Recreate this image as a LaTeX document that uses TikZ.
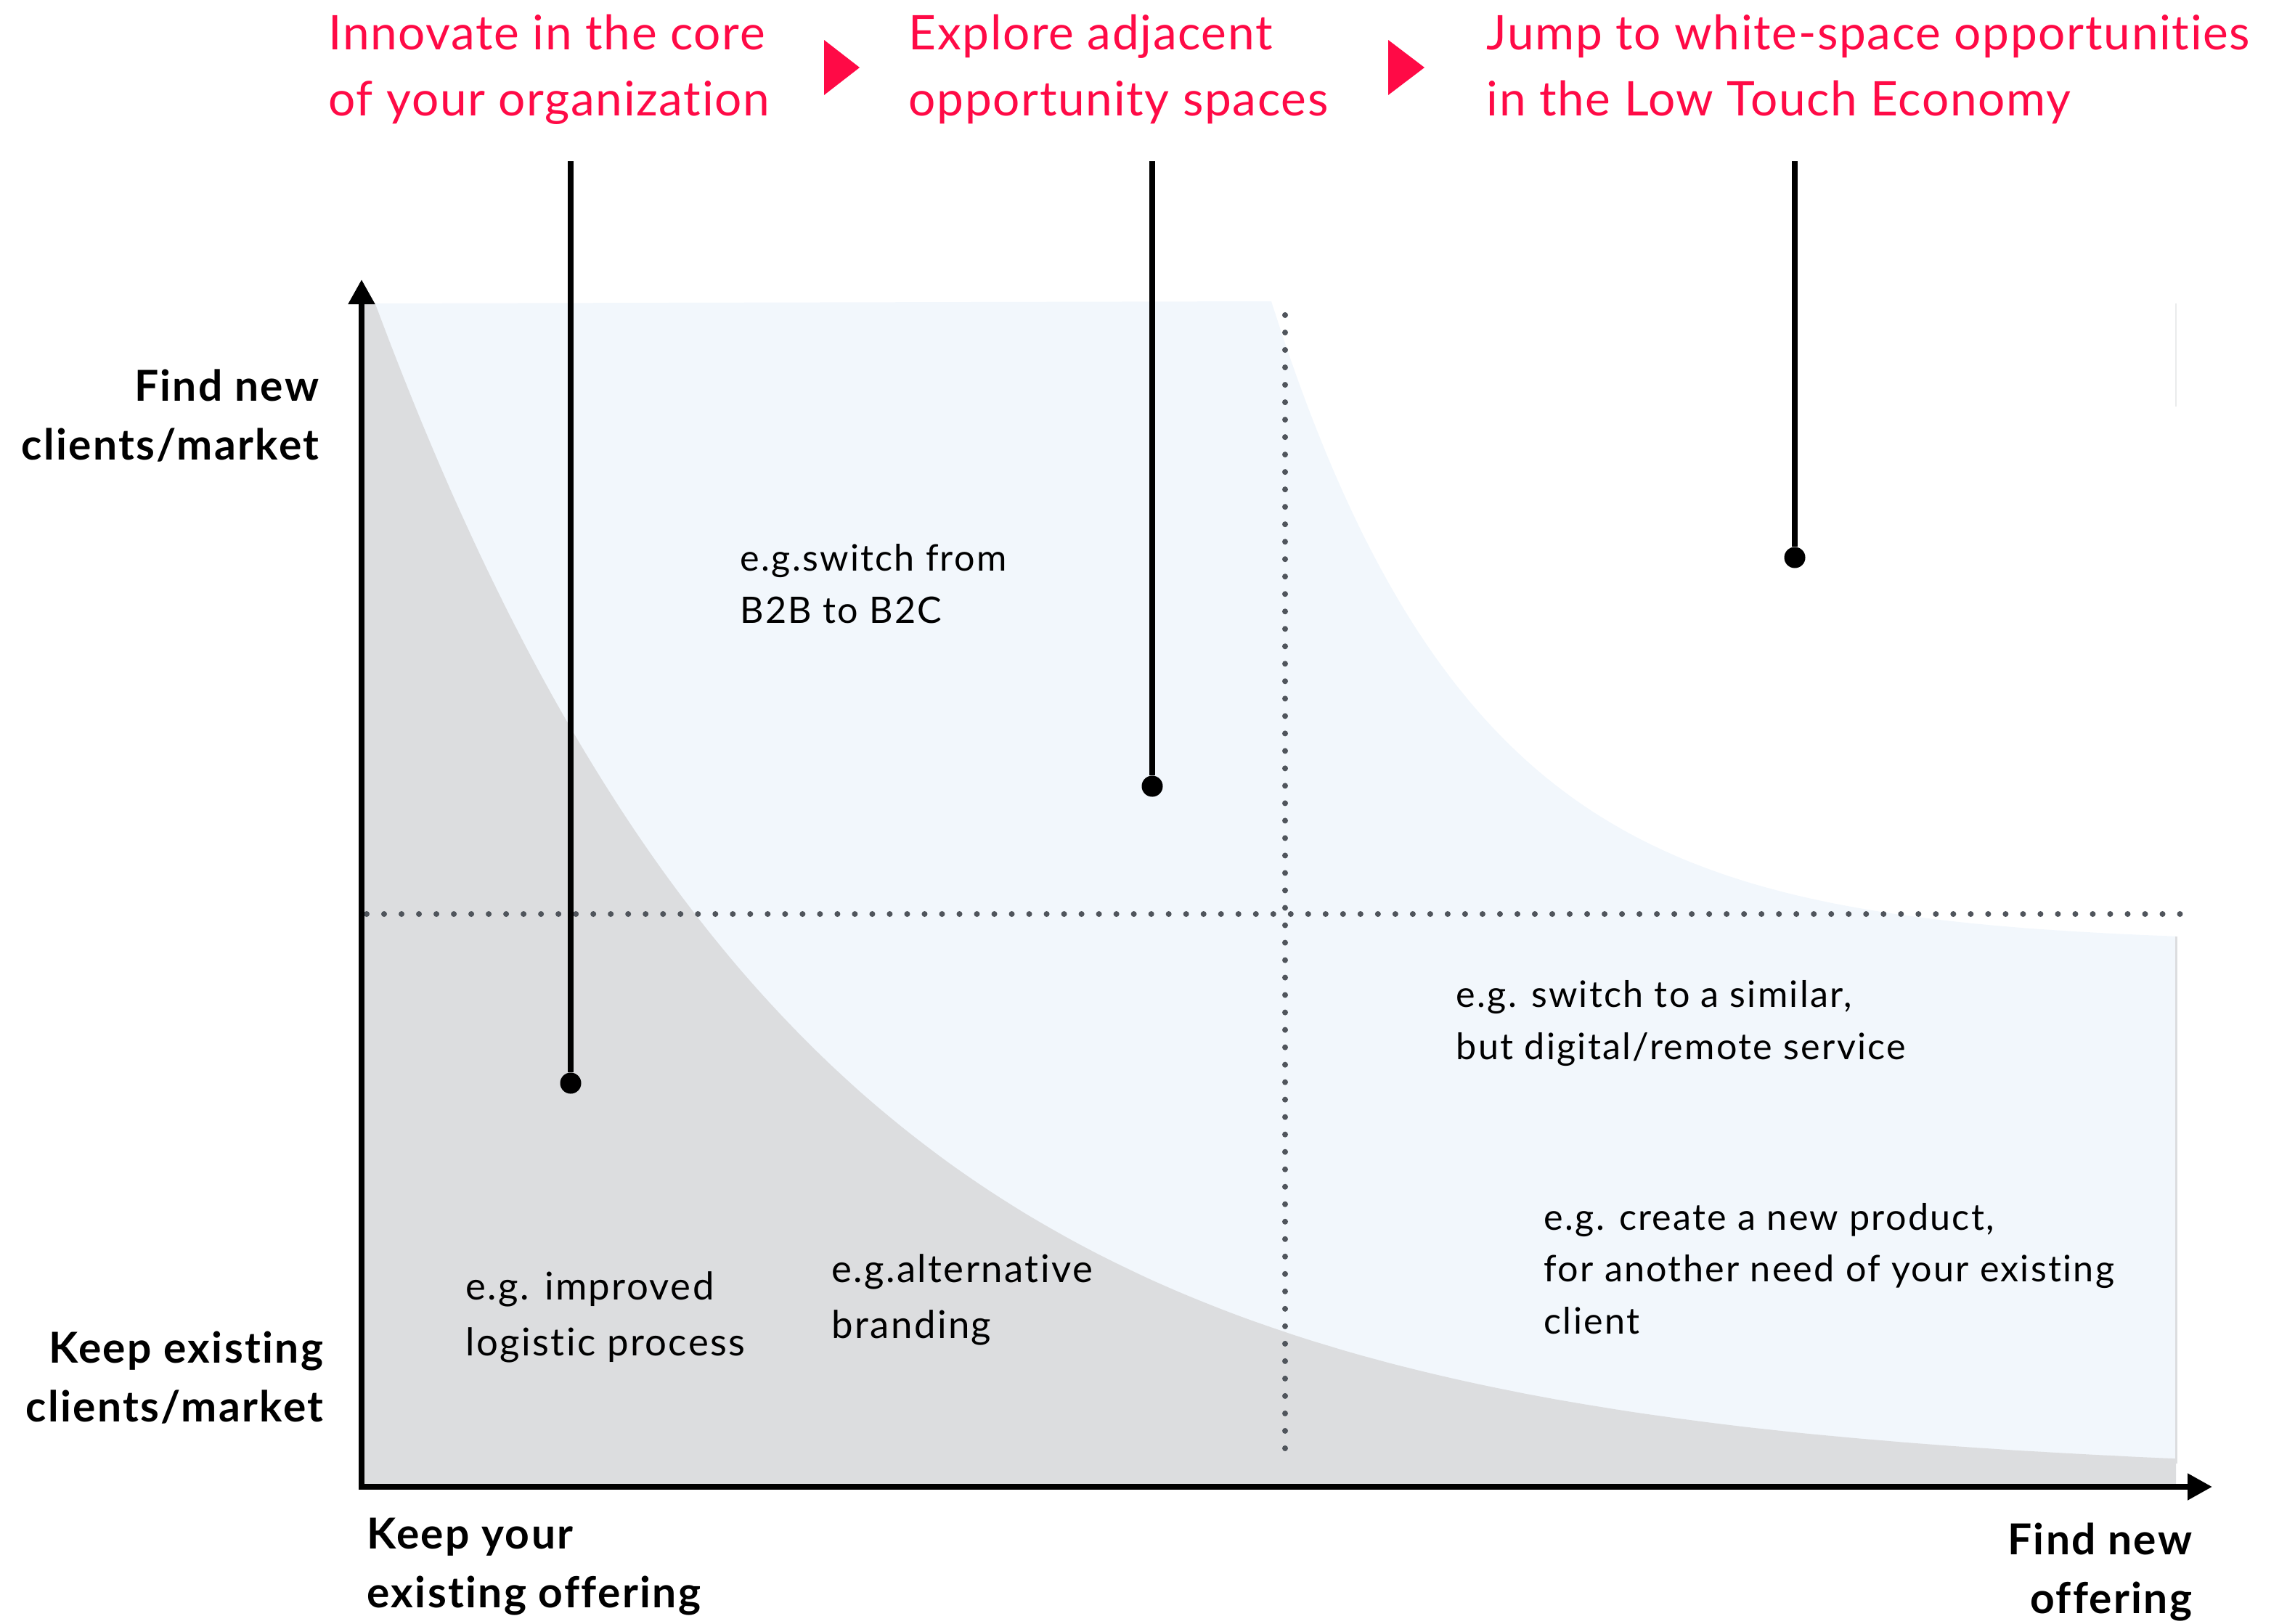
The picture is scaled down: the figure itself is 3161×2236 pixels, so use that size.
\documentclass[tikz,border=0pt]{standalone}
\usepackage{fontspec}
\setmainfont{Lato}[Ligatures=NoCommon]
\newfontfamily\titlefont[LetterSpace=2.5,Ligatures=NoCommon]{Lato}
\newfontfamily\bodyfont[LetterSpace=4.5,Ligatures=NoCommon]{Lato}
\newfontfamily\labelfont[LetterSpace=4,Ligatures=NoCommon]{Lato}
\usetikzlibrary{arrows.meta}
\definecolor{accent}{RGB}{255,10,70}
\definecolor{coreGrey}{RGB}{220,221,223}
\definecolor{adjBlue}{RGB}{242,247,252}
\definecolor{dotGrey}{RGB}{80,85,92}
\begin{document}
\begin{tikzpicture}[x=0.01cm,y=-0.01cm,
  title/.style={anchor=base west,align=left,inner sep=0pt,text=accent,font=\titlefont\fontsize{18.7}{25.6}\selectfont},
  axislabel/.style={inner sep=0pt,font=\labelfont\bfseries\fontsize{16.7}{22.8}\selectfont},
  example/.style={anchor=base west,align=left,inner sep=0pt,font=\bodyfont\fontsize{14.3}{20.2}\selectfont},
  stem/.style={line width=0.08cm},
  pin/.style={circle,fill,inner sep=0pt,minimum size=0.29cm},
  guide/.style={dotGrey,line width=0.08cm,line cap=round,dash pattern=on 0pt off 0.24cm},
  axis/.style={line width=0.08cm,-{Triangle[length=0.34cm,width=0.35cm]}}]
\useasboundingbox (0,0) rectangle (3161,2236);
% regions
\fill[adjBlue] (502,418) -- (1751,415) -- plot[domain=1751:2997,samples=100,smooth] (\x,{1300-885*exp(-(\x-1751)/280)}) -- (2997,2046) -- (502,2046) -- cycle;
\fill[coreGrey] (502,418) -- plot[domain=517:2997,samples=120,smooth] (\x,{2035-1616*exp(-(\x-517)/600)}) -- (2997,2046) -- (502,2046) -- cycle;
\draw[coreGrey,line width=0.03cm] (2997,1290) -- (2997,2016);
\draw[coreGrey!60,line width=0.02cm] (2997,418) -- (2997,560);
% guides
\draw[guide] (1770,434) -- (1770,2016);
\draw[guide] (505,1259) -- (3008,1259);
% axes
\coordinate (origin) at (498,2048);
\coordinate (ytop) at (498,385);
\coordinate (xend) at (3047,2048);
\draw[axis] ([yshift=-0.04cm]origin) -- (ytop);
\draw[axis] ([xshift=-0.04cm]origin) -- (xend);
% titles (anchored on last line)
\node[title] (core) at (452,159) {Innovate in the core\\of your organization};
\node[title] (adjacent) at (1251,159) {Explore adjacent\\opportunity spaces};
\node[title] (white) at (2047,159) {Jump to white-space opportunities\\in the Low Touch Economy};
\fill[accent] (1135,55) -- (1184,93) -- (1135,131) -- cycle;
\fill[accent] (1912,55) -- (1962,93) -- (1912,131) -- cycle;
% stems
\coordinate (s1) at (786,222);
\coordinate (s2) at (1587,222);
\coordinate (s3) at (2472,222);
\node[pin] (p1) at (786,1492) {};
\node[pin] (p2) at (1587,1083) {};
\node[pin] (p3) at (2472,768) {};
\draw[stem] (s1) -- (p1);
\draw[stem] (s2) -- (p2);
\draw[stem] (s3) -- (p3);
% axis labels
\node[axislabel,anchor=base east,align=right] (ynew) at (440,633) {Find new\\clients/market};
\node[axislabel,anchor=base east,align=right] (ykeep) at (446,1958) {Keep existing\\clients/market};
\node[axislabel,anchor=base west,align=left] (xkeep) at (505,2214) {Keep your\\existing offering};
\node[axislabel,anchor=base east,align=right] (xnew) at (3020,2222) {Find new\\offering};
% examples
\node[example] (b2c) at (1019,858) {e.g.switch from\\B2B to B2C};
\node[example] (remote) at (2005,1459) {e.g. switch to a similar,\\but digital/remote service};
\node[example] (product) at (2126,1837) {e.g. create a new product,\\for another need of your existing\\client};
\node[example,font=\bodyfont\fontsize{15}{21.9}\selectfont] (logistic) at (641,1867) {e.g. improved\\logistic process};
\node[example,font=\bodyfont\fontsize{15}{21.9}\selectfont] (branding) at (1145,1843) {e.g.alternative\\branding};
\end{tikzpicture}
\end{document}
